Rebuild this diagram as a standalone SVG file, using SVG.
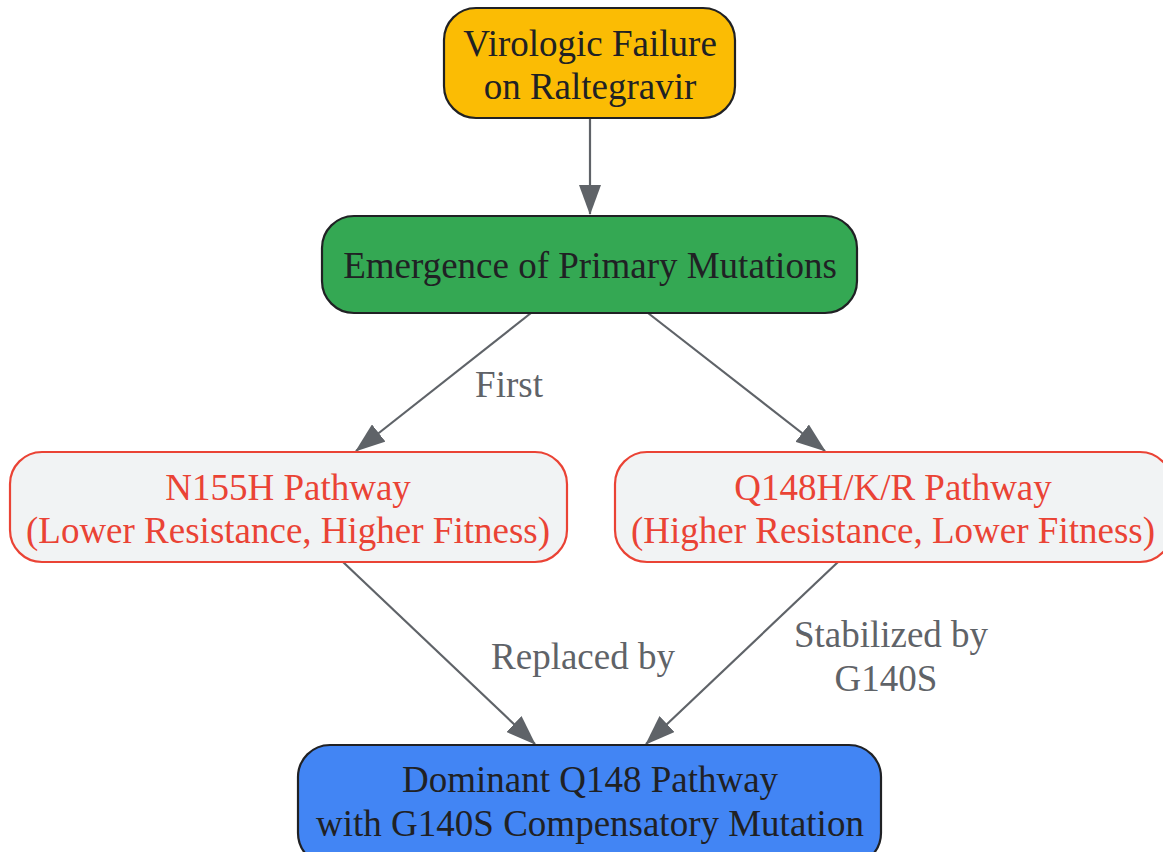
<svg xmlns="http://www.w3.org/2000/svg" width="1163" height="852" viewBox="0 0 1163 852">
<style>
text{font-size:37px;text-anchor:middle}
.dark{fill:#202124}
.red{fill:#EA4335}
.lbl{fill:#5F6368}
.edge{stroke:#5F6368;stroke-width:2.2;fill:none}
.nb{stroke:#202124;stroke-width:2.2}
</style>
<defs>
<marker id="ah" viewBox="0 0 30 22" refX="29" refY="11" markerWidth="30" markerHeight="22" markerUnits="userSpaceOnUse" orient="auto">
<path d="M0,0 L30,11 L0,22 z" fill="#5F6368"/>
</marker>
</defs>
<rect width="1163" height="852" fill="#ffffff"/>
<g id="connectors" font-family="'Liberation Serif', Tinos, 'Times New Roman', serif">
<path class="edge" d="M590,118 L590,214" marker-end="url(#ah)"/>
<path class="edge" d="M531,313 L356,451" marker-end="url(#ah)"/>
<path class="edge" d="M648,313 L825,451" marker-end="url(#ah)"/>
<path class="edge" d="M343,562 L535,744" marker-end="url(#ah)"/>
<path class="edge" d="M838,562 L646,744" marker-end="url(#ah)"/>
<text class="lbl" x="509" y="397">First</text>
<text class="lbl" x="583" y="669">Replaced by</text>
<text class="lbl" x="891" y="647">Stabilized by</text>
<text class="lbl" x="886" y="691">G140S</text>
</g>
<g id="n1" font-family="'Liberation Serif', Tinos, 'Times New Roman', serif">
<rect class="nb" x="444" y="8" width="291" height="110" rx="32" fill="#FBBC04"/>
<text class="dark" x="590" y="56">Virologic Failure</text>
<text class="dark" x="590" y="99">on Raltegravir</text>
</g>
<g id="n2" font-family="'Liberation Serif', Tinos, 'Times New Roman', serif">
<rect class="nb" x="322" y="216" width="535" height="97" rx="32" fill="#34A853"/>
<text class="dark" x="590" y="278">Emergence of Primary Mutations</text>
</g>
<g id="n3" font-family="'Liberation Serif', Tinos, 'Times New Roman', serif">
<rect x="10" y="452" width="557" height="110" rx="32" fill="#F1F3F4" stroke="#EA4335" stroke-width="2.2"/>
<text class="red" x="288" y="500">N155H Pathway</text>
<text class="red" x="288" y="543">(Lower Resistance, Higher Fitness)</text>
</g>
<g id="n4" font-family="'Liberation Serif', Tinos, 'Times New Roman', serif">
<rect x="615" y="452" width="557" height="110" rx="32" fill="#F1F3F4" stroke="#EA4335" stroke-width="2.2"/>
<text class="red" x="893" y="500">Q148H/K/R Pathway</text>
<text class="red" x="893" y="543">(Higher Resistance, Lower Fitness)</text>
</g>
<g id="n5" font-family="'Liberation Serif', Tinos, 'Times New Roman', serif">
<rect class="nb" x="298" y="745" width="583" height="120" rx="32" fill="#4285F4"/>
<text class="dark" x="590" y="792">Dominant Q148 Pathway</text>
<text class="dark" x="590" y="836">with G140S Compensatory Mutation</text>
</g>
</svg>
